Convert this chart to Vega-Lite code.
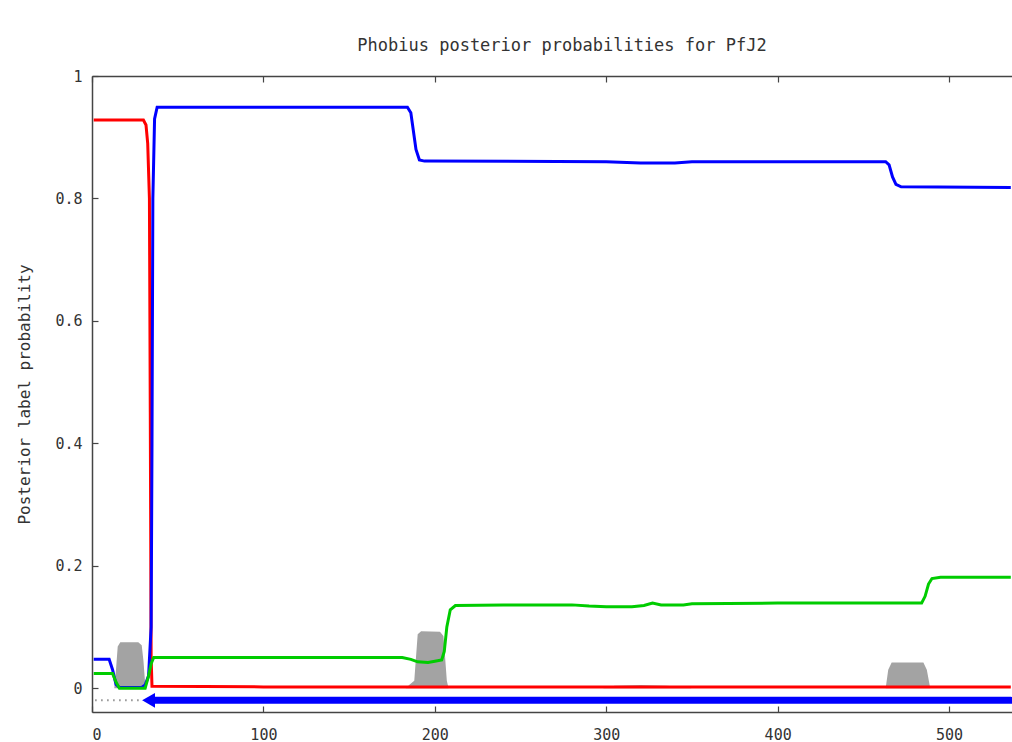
{
  "$schema": "https://vega.github.io/schema/vega-lite/v6.json",
  "width": 920,
  "height": 636,
  "autosize": {"type": "none"},
  "padding": {"left": 92, "top": 76, "right": 0, "bottom": 30},
  "background": "white",
  "title": {"text": "Phobius posterior probabilities for PfJ2", "font": "DejaVu Sans Mono", "fontSize": 17, "fontWeight": "normal", "color": "#333333", "offset": 1, "dx": 10, "anchor": "middle", "baseline": "alphabetic"},
  "config": {
    "view": {"stroke": null},
    "axis": {"domainColor": "#444444", "domainWidth": 1.5, "tickColor": "#444444", "tickSize": -6, "tickWidth": 1.2, "labelFont": "DejaVu Sans Mono", "labelFontSize": 15, "labelColor": "#333333", "grid": false, "titleFont": "DejaVu Sans Mono", "titleFontSize": 16, "titleFontWeight": "normal", "titleColor": "#333333"}
  },
  "datasets": {
    "probs": [
      {"pos": 1, "p": 0.928, "s": "signal"}, {"pos": 30, "p": 0.928, "s": "signal"}, {"pos": 31.5, "p": 0.92, "s": "signal"}, {"pos": 32.5, "p": 0.89, "s": "signal"}, {"pos": 33.5, "p": 0.8, "s": "signal"}, {"pos": 34, "p": 0.45, "s": "signal"}, {"pos": 34.5, "p": 0.05, "s": "signal"}, {"pos": 35, "p": 0.003, "s": "signal"}, {"pos": 100, "p": 0.002, "s": "signal"}, {"pos": 536, "p": 0.002, "s": "signal"},
      {"pos": 1, "p": 0.047, "s": "noncyto"}, {"pos": 10, "p": 0.047, "s": "noncyto"}, {"pos": 12, "p": 0.03, "s": "noncyto"}, {"pos": 14, "p": 0.006, "s": "noncyto"}, {"pos": 16, "p": 0.001, "s": "noncyto"}, {"pos": 29, "p": 0.001, "s": "noncyto"}, {"pos": 31, "p": 0.005, "s": "noncyto"}, {"pos": 33, "p": 0.02, "s": "noncyto"}, {"pos": 34.5, "p": 0.1, "s": "noncyto"}, {"pos": 35, "p": 0.4, "s": "noncyto"}, {"pos": 35.5, "p": 0.8, "s": "noncyto"}, {"pos": 36.5, "p": 0.93, "s": "noncyto"}, {"pos": 38, "p": 0.949, "s": "noncyto"}, {"pos": 184, "p": 0.949, "s": "noncyto"}, {"pos": 186, "p": 0.94, "s": "noncyto"}, {"pos": 187, "p": 0.92, "s": "noncyto"}, {"pos": 189, "p": 0.88, "s": "noncyto"}, {"pos": 191, "p": 0.863, "s": "noncyto"}, {"pos": 194, "p": 0.861, "s": "noncyto"}, {"pos": 300, "p": 0.86, "s": "noncyto"}, {"pos": 320, "p": 0.858, "s": "noncyto"}, {"pos": 340, "p": 0.858, "s": "noncyto"}, {"pos": 350, "p": 0.86, "s": "noncyto"}, {"pos": 463, "p": 0.86, "s": "noncyto"}, {"pos": 465, "p": 0.855, "s": "noncyto"}, {"pos": 467, "p": 0.835, "s": "noncyto"}, {"pos": 469, "p": 0.823, "s": "noncyto"}, {"pos": 472, "p": 0.819, "s": "noncyto"}, {"pos": 536, "p": 0.818, "s": "noncyto"},
      {"pos": 1, "p": 0.024, "s": "cyto"}, {"pos": 12, "p": 0.024, "s": "cyto"}, {"pos": 14, "p": 0.01, "s": "cyto"}, {"pos": 16, "p": 0.0, "s": "cyto"}, {"pos": 31, "p": 0.0, "s": "cyto"}, {"pos": 33, "p": 0.02, "s": "cyto"}, {"pos": 34.5, "p": 0.04, "s": "cyto"}, {"pos": 36, "p": 0.05, "s": "cyto"}, {"pos": 181, "p": 0.05, "s": "cyto"}, {"pos": 186, "p": 0.047, "s": "cyto"}, {"pos": 190, "p": 0.043, "s": "cyto"}, {"pos": 196, "p": 0.042, "s": "cyto"}, {"pos": 200, "p": 0.044, "s": "cyto"}, {"pos": 204, "p": 0.046, "s": "cyto"}, {"pos": 205.5, "p": 0.06, "s": "cyto"}, {"pos": 207, "p": 0.1, "s": "cyto"}, {"pos": 209, "p": 0.128, "s": "cyto"}, {"pos": 212, "p": 0.135, "s": "cyto"}, {"pos": 240, "p": 0.136, "s": "cyto"}, {"pos": 280, "p": 0.136, "s": "cyto"}, {"pos": 290, "p": 0.134, "s": "cyto"}, {"pos": 300, "p": 0.133, "s": "cyto"}, {"pos": 315, "p": 0.133, "s": "cyto"}, {"pos": 322, "p": 0.135, "s": "cyto"}, {"pos": 327, "p": 0.139, "s": "cyto"}, {"pos": 332, "p": 0.136, "s": "cyto"}, {"pos": 345, "p": 0.136, "s": "cyto"}, {"pos": 350, "p": 0.138, "s": "cyto"}, {"pos": 400, "p": 0.139, "s": "cyto"}, {"pos": 484, "p": 0.139, "s": "cyto"}, {"pos": 486, "p": 0.15, "s": "cyto"}, {"pos": 488, "p": 0.17, "s": "cyto"}, {"pos": 490, "p": 0.179, "s": "cyto"}, {"pos": 495, "p": 0.181, "s": "cyto"}, {"pos": 536, "p": 0.181, "s": "cyto"}
    ],
    "tm": [
      {"pos": 1, "p": 0}, {"pos": 13, "p": 0}, {"pos": 14, "p": 0.03}, {"pos": 15, "p": 0.068}, {"pos": 16.5, "p": 0.075}, {"pos": 27, "p": 0.075}, {"pos": 29, "p": 0.07}, {"pos": 30, "p": 0.045}, {"pos": 31, "p": 0.008}, {"pos": 32, "p": 0},
      {"pos": 183, "p": 0}, {"pos": 185, "p": 0.005}, {"pos": 188, "p": 0.012}, {"pos": 189, "p": 0.05}, {"pos": 190, "p": 0.088}, {"pos": 192, "p": 0.093}, {"pos": 203, "p": 0.092}, {"pos": 205, "p": 0.085}, {"pos": 206, "p": 0.05}, {"pos": 207, "p": 0.012}, {"pos": 208, "p": 0},
      {"pos": 298, "p": 0}, {"pos": 305, "p": 0.004}, {"pos": 320, "p": 0.005}, {"pos": 335, "p": 0.004}, {"pos": 345, "p": 0.002}, {"pos": 350, "p": 0},
      {"pos": 463, "p": 0}, {"pos": 464.5, "p": 0.03}, {"pos": 466.5, "p": 0.042}, {"pos": 485, "p": 0.042}, {"pos": 487, "p": 0.03}, {"pos": 489, "p": 0}, {"pos": 536, "p": 0}
    ],
    "dots": [{"pos": 2, "p": -0.02}, {"pos": 28, "p": -0.02}],
    "topo": [{"pos": 35, "p": -0.02}, {"pos": 536, "p": -0.02}],
    "arrow": [{"pos": 33, "p": -0.02}]
  },
  "layer": [
    {
      "data": {"name": "tm"},
      "mark": {"type": "area", "color": "#a3a3a3", "clip": true},
      "encoding": {
        "x": {"field": "pos", "type": "quantitative", "scale": {"domain": [0, 536.7], "nice": false, "zero": false}, "axis": {"orient": "bottom", "values": [0, 100, 200, 300, 400, 500], "labelPadding": 21, "title": null}},
        "y": {"field": "p", "type": "quantitative", "scale": {"domain": [-0.039, 1], "nice": false, "zero": false}, "axis": {"orient": "left", "values": [0, 0.2, 0.4, 0.6, 0.8, 1], "format": "~g", "labelPadding": 16, "title": "Posterior label probability", "titleX": -68, "titleY": 318, "titleAngle": 270, "titleAlign": "center", "titleBaseline": "middle"}}
      }
    },
    {
      "data": {"name": "probs"},
      "mark": {"type": "line", "strokeWidth": 3, "clip": true},
      "encoding": {
        "x": {"field": "pos", "type": "quantitative", "scale": {"domain": [0, 536.7], "nice": false, "zero": false}, "axis": {"orient": "top", "values": [0, 100, 200, 300, 400, 500], "labels": false, "title": null}},
        "y": {"field": "p", "type": "quantitative", "scale": {"domain": [-0.039, 1], "nice": false, "zero": false}, "axis": null},
        "color": {"field": "s", "type": "nominal", "scale": {"domain": ["signal", "noncyto", "cyto"], "range": ["#ff0000", "#0000ff", "#00cc00"]}, "legend": null}
      }
    },
    {
      "data": {"name": "dots"},
      "mark": {"type": "line", "strokeWidth": 2, "strokeDash": [1, 5], "color": "#555555", "clip": true},
      "encoding": {
        "x": {"field": "pos", "type": "quantitative", "scale": {"domain": [0, 536.7], "nice": false, "zero": false}, "axis": null},
        "y": {"field": "p", "type": "quantitative", "scale": {"domain": [-0.039, 1], "nice": false, "zero": false}, "axis": null}
      }
    },
    {
      "data": {"name": "topo"},
      "mark": {"type": "line", "strokeWidth": 7, "strokeCap": "round", "color": "#0000ff", "clip": true},
      "encoding": {
        "x": {"field": "pos", "type": "quantitative", "scale": {"domain": [0, 536.7], "nice": false, "zero": false}, "axis": null},
        "y": {"field": "p", "type": "quantitative", "scale": {"domain": [-0.039, 1], "nice": false, "zero": false}, "axis": null}
      }
    },
    {
      "data": {"name": "arrow"},
      "mark": {"type": "point", "shape": "triangle-left", "filled": true, "size": 220, "color": "#0000ff", "opacity": 1},
      "encoding": {
        "x": {"field": "pos", "type": "quantitative", "scale": {"domain": [0, 536.7], "nice": false, "zero": false}, "axis": null},
        "y": {"field": "p", "type": "quantitative", "scale": {"domain": [-0.039, 1], "nice": false, "zero": false}, "axis": null}
      }
    }
  ],
  "resolve": {"axis": {"x": "independent", "y": "independent"}}
}
